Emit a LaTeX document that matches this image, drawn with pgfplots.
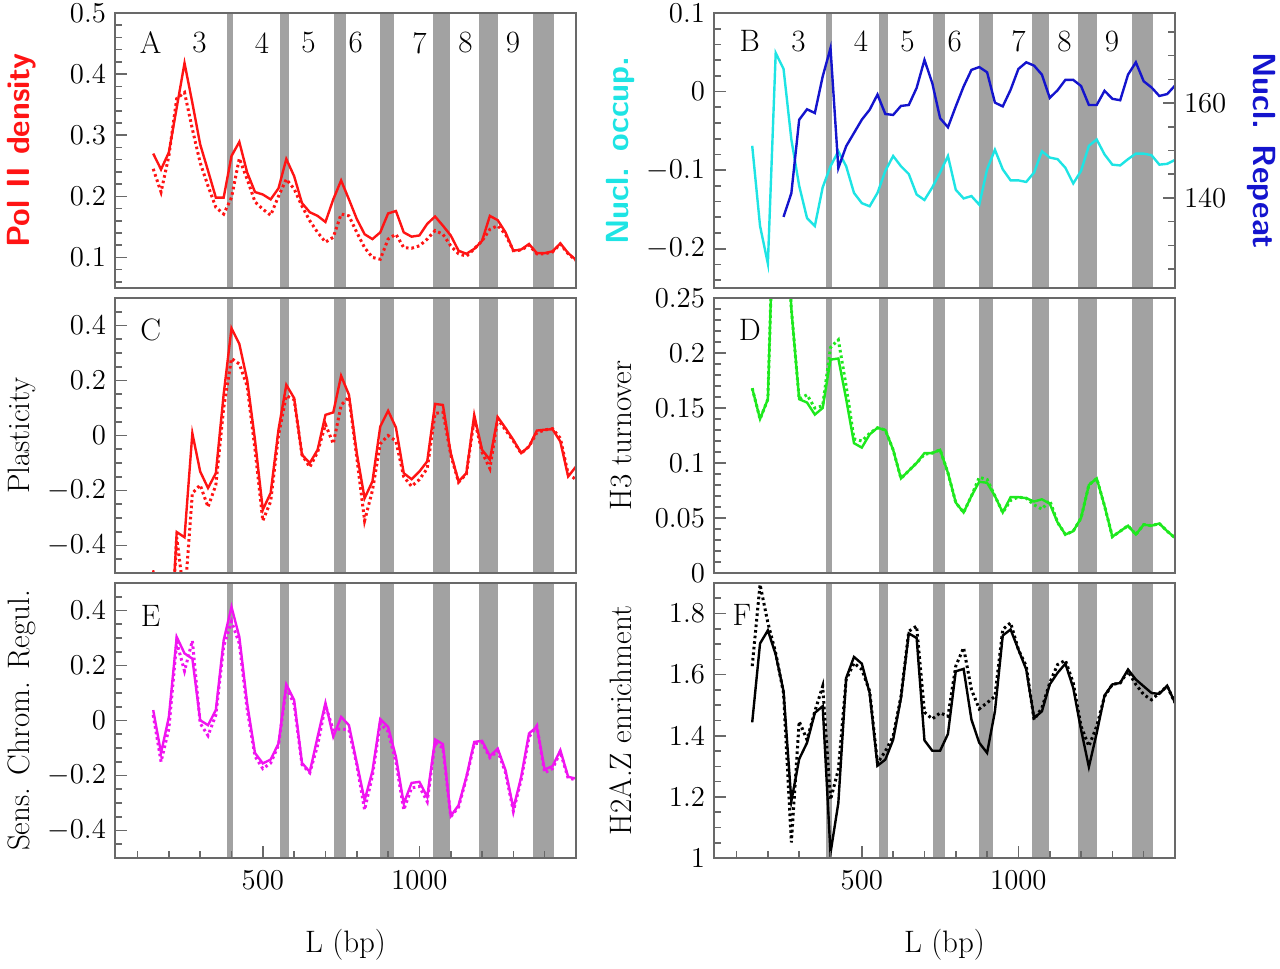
\documentclass[border=0pt]{standalone}
\usepackage{pgfplots}
\usepackage{pgfplotstable}
\pgfplotsset{compat=1.18}
\definecolor{bandgray}{RGB}{162,162,162}
\definecolor{framegray}{RGB}{105,105,105}
\definecolor{cred}{RGB}{255,20,20}
\definecolor{ccyan}{RGB}{30,228,228}
\definecolor{cblue}{RGB}{20,20,205}
\definecolor{cgreen}{RGB}{30,232,30}
\definecolor{cmag}{RGB}{240,20,240}
\newcommand{\tickfont}{\fontsize{14}{16}\selectfont}
\newcommand{\labfont}{\fontsize{15.5}{18}\selectfont}
\newcommand{\sflabfont}{\fontsize{16}{19}\selectfont\sffamily\bfseries}

\pgfplotstableread{
x a1 a2 b1 b2 c1 c2 d1 d2 e1 e2 f1 f2
150 0.270 0.245 -0.069 nan -0.49 -0.60 0.168 0.168 0.038 0.020 1.444 1.628
175 0.244 0.207 -0.171 nan -0.75 -0.80 0.140 0.140 -0.118 -0.150 1.702 1.895
200 0.272 0.266 -0.219 nan -0.90 -0.90 0.158 0.158 0.013 -0.030 1.745 1.770
225 0.345 0.360 0.049 nan -0.351 -0.37 0.400 0.400 0.304 0.285 1.666 1.671
250 0.418 0.370 0.029 136.0 -0.370 -0.60 0.380 0.380 0.244 0.180 1.546 1.540
275 0.353 0.310 -0.061 141.0 0.008 -0.21 0.240 0.240 0.225 0.290 1.186 1.051
300 0.285 0.255 -0.120 156.5 -0.131 -0.18 0.158 0.158 0.001 -0.010 1.324 1.447
325 0.242 0.217 -0.161 158.7 -0.191 -0.26 0.155 0.162 -0.017 -0.055 1.377 1.387
350 0.198 0.182 -0.171 157.9 -0.137 -0.18 0.144 0.150 0.038 0.020 1.475 1.480
375 0.198 0.171 -0.122 165.6 0.150 0.10 0.150 0.152 0.292 0.270 1.497 1.562
400 0.266 0.198 -0.095 171.6 0.390 0.28 0.194 0.205 0.413 0.360 1.016 1.191
425 0.289 0.262 -0.076 146.3 0.333 0.26 0.195 0.212 0.304 0.280 1.180 1.289
450 0.239 0.228 -0.095 150.9 0.202 0.18 0.158 0.170 0.062 0.040 1.589 1.584
475 0.207 0.191 -0.129 153.7 -0.016 -0.05 0.118 0.122 -0.118 -0.130 1.658 1.638
500 0.203 0.179 -0.142 156.5 -0.270 -0.31 0.114 0.120 -0.156 -0.175 1.636 1.617
525 0.195 0.169 -0.146 158.6 -0.209 -0.24 0.126 0.127 -0.142 -0.155 1.540 1.546
550 0.213 0.200 -0.129 161.8 0.021 0.00 0.132 0.132 -0.084 -0.090 1.302 1.311
575 0.261 0.228 -0.101 157.7 0.184 0.145 0.130 0.130 0.131 0.120 1.322 1.349
600 0.233 0.212 -0.082 157.5 0.136 0.13 0.112 0.112 0.074 0.060 1.387 1.398
625 0.189 0.184 -0.095 159.4 -0.070 -0.07 0.086 0.086 -0.154 -0.160 1.524 1.529
650 0.174 0.160 -0.105 159.6 -0.100 -0.115 0.093 0.093 -0.187 -0.190 1.735 1.742
675 0.168 0.141 -0.131 163.2 -0.052 -0.06 0.100 0.100 -0.059 -0.090 1.720 1.759
700 0.158 0.125 -0.138 169.1 0.075 0.04 0.109 0.108 0.064 0.055 1.385 1.477
725 0.195 0.133 -0.122 164.2 0.084 -0.03 0.109 0.109 -0.059 -0.035 1.351 1.455
750 0.226 0.171 -0.103 156.8 0.217 0.11 0.112 0.112 0.013 -0.030 1.351 1.475
775 0.195 0.168 -0.082 154.9 0.148 0.14 0.091 0.091 -0.017 -0.035 1.406 1.464
800 0.163 0.141 -0.125 159.3 -0.064 -0.08 0.064 0.064 -0.154 -0.160 1.611 1.628
825 0.138 0.116 -0.136 163.5 -0.228 -0.31 0.055 0.055 -0.290 -0.325 1.619 1.688
850 0.130 0.100 -0.133 167.0 -0.167 -0.20 0.070 0.070 -0.184 -0.200 1.453 1.551
875 0.141 0.097 -0.144 167.6 0.033 -0.03 0.083 0.087 0.005 -0.010 1.377 1.488
900 0.172 0.130 -0.099 166.5 0.090 0.00 0.082 0.085 -0.023 -0.040 1.344 1.508
925 0.176 0.138 -0.074 160.1 0.029 -0.02 0.070 0.070 -0.132 -0.150 1.480 1.529
950 0.141 0.116 -0.099 159.3 -0.137 -0.15 0.055 0.055 -0.302 -0.325 1.728 1.748
975 0.134 0.115 -0.113 162.8 -0.159 -0.185 0.069 0.066 -0.227 -0.245 1.748 1.770
1000 0.136 0.119 -0.113 167.2 -0.131 -0.16 0.069 0.069 -0.223 -0.240 1.682 1.682
1025 0.155 0.130 -0.115 168.6 -0.094 -0.12 0.068 0.068 -0.278 -0.295 1.617 1.628
1050 0.167 0.144 -0.103 167.9 0.115 0.08 0.065 0.062 -0.069 -0.080 1.458 1.453
1075 0.152 0.138 -0.076 166.0 0.111 0.085 0.067 0.058 -0.086 -0.100 1.480 1.491
1100 0.136 0.119 -0.084 161.1 -0.064 -0.07 0.063 0.066 -0.348 -0.350 1.568 1.573
1125 0.111 0.106 -0.086 162.7 -0.167 -0.17 0.046 0.046 -0.308 -0.315 1.606 1.633
1150 0.106 0.102 -0.097 164.9 -0.137 -0.14 0.035 0.035 -0.205 -0.210 1.636 1.647
1175 0.114 0.114 -0.117 164.9 0.075 0.06 0.038 0.038 -0.078 -0.085 1.557 1.573
1200 0.127 0.127 -0.101 163.6 -0.052 -0.06 0.050 0.050 -0.074 -0.080 1.420 1.431
1225 0.168 0.146 -0.069 159.6 -0.088 -0.12 0.080 0.080 -0.130 -0.135 1.298 1.366
1250 0.161 0.152 -0.061 159.6 0.067 0.06 0.086 0.086 -0.102 -0.110 1.409 1.431
1275 0.141 0.138 -0.080 162.6 0.027 0.02 0.061 0.061 -0.181 -0.190 1.532 1.529
1300 0.111 0.111 -0.093 160.9 -0.016 -0.02 0.033 0.033 -0.320 -0.330 1.568 1.568
1325 0.113 0.112 -0.094 160.6 -0.064 -0.065 0.038 0.038 -0.205 -0.215 1.573 1.573
1350 0.122 0.120 -0.086 166.0 -0.040 -0.04 0.043 0.043 -0.047 -0.060 1.617 1.611
1375 0.107 0.106 -0.079 168.6 0.018 0.01 0.035 0.035 -0.023 -0.020 1.584 1.568
1400 0.107 0.106 -0.079 164.6 0.021 0.02 0.044 0.044 -0.178 -0.190 1.562 1.535
1425 0.110 0.109 -0.081 163.3 0.023 0.025 0.043 0.043 -0.166 -0.175 1.540 1.518
1450 0.123 0.122 -0.093 161.5 -0.022 -0.01 0.045 0.045 -0.108 -0.115 1.537 1.540
1475 0.107 0.106 -0.092 161.9 -0.149 -0.14 0.038 0.038 -0.205 -0.210 1.564 1.562
1500 0.096 0.095 -0.087 163.7 -0.113 -0.16 0.032 0.032 -0.211 -0.215 1.508 1.508
}\tab

\newcommand{\bands}[2]{%
\addplot[fill=bandgray,draw=none,forget plot] coordinates {(387,#1) (405,#1) (405,#2) (387,#2)};
\addplot[fill=bandgray,draw=none,forget plot] coordinates {(556,#1) (585,#1) (585,#2) (556,#2)};
\addplot[fill=bandgray,draw=none,forget plot] coordinates {(726,#1) (764,#1) (764,#2) (726,#2)};
\addplot[fill=bandgray,draw=none,forget plot] coordinates {(873,#1) (918,#1) (918,#2) (873,#2)};
\addplot[fill=bandgray,draw=none,forget plot] coordinates {(1044,#1) (1097,#1) (1097,#2) (1044,#2)};
\addplot[fill=bandgray,draw=none,forget plot] coordinates {(1191,#1) (1250,#1) (1250,#2) (1191,#2)};
\addplot[fill=bandgray,draw=none,forget plot] coordinates {(1362,#1) (1430,#1) (1430,#2) (1362,#2)};
}

\pgfplotsset{
panel/.style={
 scale only axis, width=230.5pt, height=137.5pt,
 xmin=28, xmax=1500, axis on top,
 axis line style={draw=framegray, line width=0.9pt},
 tick style={draw=framegray, line width=0.8pt},
 major tick length=6pt, minor tick length=3.5pt,
 tick align=inside,
 ticklabel style={font=\tickfont},
 yticklabel style={/pgf/number format/fixed, /pgf/number format/precision=2, xshift=-1pt},
 every axis y label/.style={at={(axis description cs:-0.202,0.5)}, rotate=90, anchor=center},
 every axis x label/.style={at={(axis description cs:0.5,-0.316)}, anchor=center, font=\labfont},
 xtick=\empty, ytick pos=left,
},
botx/.style={xtick={500,1000}, minor xtick={100,200,300,400,600,700,800,900,1100,1200,1300,1400},
 xtick pos=bottom, xlabel={L (bp)},
 xticklabel style={yshift=-3pt, /pgf/number format/1000 sep={}}},
sline/.style={line width=1.2pt},
dline/.style={line width=1.5pt, dash pattern=on 1.3pt off 1.5pt},
}

\begin{document}
\begin{tikzpicture}
\useasboundingbox (0,0) rectangle (640pt,-484.5pt);

% A
\begin{axis}[panel, at={(57.5pt,-6.5pt)}, anchor=north west,
 ymin=0.05, ymax=0.5, ytick={0.1,0.2,0.3,0.4,0.5}, minor ytick={0.06,0.08,...,0.49},
 ylabel={Pol II density}, ylabel style={font=\sflabfont, text=cred}]
\bands{0.05}{0.5}
\addplot[sline, cred] table[x=x,y=a1]{\tab};
\addplot[dline, cred] table[x=x,y=a2]{\tab};
\node[font=\labfont] at (axis cs:142,0.451) {A};
\node[font=\labfont] at (axis cs:298,0.451) {3};
\node[font=\labfont] at (axis cs:497,0.451) {4};
\node[font=\labfont] at (axis cs:646,0.451) {5};
\node[font=\labfont] at (axis cs:797,0.451) {6};
\node[font=\labfont] at (axis cs:1000,0.451) {7};
\node[font=\labfont] at (axis cs:1147,0.451) {8};
\node[font=\labfont] at (axis cs:1299,0.451) {9};
\end{axis}

% B left
\begin{axis}[panel, at={(357pt,-6.5pt)}, anchor=north west,
 ymin=-0.25, ymax=0.1, ytick={-0.2,-0.1,0,0.1}, minor ytick={-0.24,-0.22,...,0.09},
 ylabel={Nucl. occup.}, ylabel style={font=\sflabfont, text=ccyan}]
\bands{-0.25}{0.1}
\addplot[sline, ccyan] table[x=x,y=b1]{\tab};
\node[font=\labfont] at (axis cs:142,0.064) {B};
\node[font=\labfont] at (axis cs:298,0.064) {3};
\node[font=\labfont] at (axis cs:497,0.064) {4};
\node[font=\labfont] at (axis cs:646,0.064) {5};
\node[font=\labfont] at (axis cs:797,0.064) {6};
\node[font=\labfont] at (axis cs:1000,0.064) {7};
\node[font=\labfont] at (axis cs:1147,0.064) {8};
\node[font=\labfont] at (axis cs:1299,0.064) {9};
\end{axis}
% B right
\begin{axis}[panel, at={(357pt,-6.5pt)}, anchor=north west,
 ymin=121, ymax=179, axis x line=none, axis y line*=right, ytick pos=right,
 ytick={140,160}, minor ytick={125,130,...,176},
 yticklabel style={/pgf/number format/fixed, xshift=2pt},
 ylabel={Nucl. Repeat},
 every axis y label/.style={at={(axis description cs:1.188,0.5)}, rotate=-90, anchor=center, font=\sflabfont, text=cblue}]
\addplot[sline, cblue, unbounded coords=discard] table[x=x,y=b2]{\tab};
\end{axis}

% C
\begin{axis}[panel, at={(57.5pt,-149pt)}, anchor=north west,
 ymin=-0.5, ymax=0.5, ytick={-0.4,-0.2,0,0.2,0.4}, minor ytick={-0.45,-0.4,...,0.46},
 ylabel={Plasticity}, ylabel style={font=\labfont}]
\bands{-0.5}{0.5}
\addplot[sline, cred] table[x=x,y=c1]{\tab};
\addplot[dline, cred] table[x=x,y=c2]{\tab};
\node[font=\labfont] at (axis cs:142,0.384) {C};
\end{axis}

% D
\begin{axis}[panel, at={(357pt,-149pt)}, anchor=north west,
 ymin=0, ymax=0.25, ytick={0,0.05,0.1,0.15,0.2,0.25}, minor ytick={0.01,0.02,...,0.245},
 ylabel={H3 turnover}, ylabel style={font=\labfont}]
\bands{0}{0.25}
\addplot[sline, cgreen] table[x=x,y=d1]{\tab};
\addplot[dline, cgreen] table[x=x,y=d2]{\tab};
\node[font=\labfont] at (axis cs:142,0.221) {D};
\end{axis}

% E
\begin{axis}[panel, botx, at={(57.5pt,-291.5pt)}, anchor=north west,
 ymin=-0.5, ymax=0.5, ytick={-0.4,-0.2,0,0.2,0.4}, minor ytick={-0.45,-0.4,...,0.46},
 ylabel={Sens. Chrom. Regul.}, ylabel style={font=\labfont}]
\bands{-0.5}{0.5}
\addplot[sline, cmag] table[x=x,y=e1]{\tab};
\addplot[dline, cmag] table[x=x,y=e2]{\tab};
\node[font=\labfont] at (axis cs:142,0.379) {E};
\end{axis}

% F
\begin{axis}[panel, botx, at={(357pt,-291.5pt)}, anchor=north west,
 ymin=1, ymax=1.9, ytick={1,1.2,1.4,1.6,1.8}, minor ytick={1.05,1.1,...,1.86},
 ylabel={H2A.Z enrichment}, ylabel style={font=\labfont}]
\bands{1}{1.9}
\addplot[sline, black] table[x=x,y=f1]{\tab};
\addplot[dline, black] table[x=x,y=f2]{\tab};
\node[font=\labfont] at (axis cs:117,1.797) {F};
\end{axis}
\end{tikzpicture}
\end{document}
